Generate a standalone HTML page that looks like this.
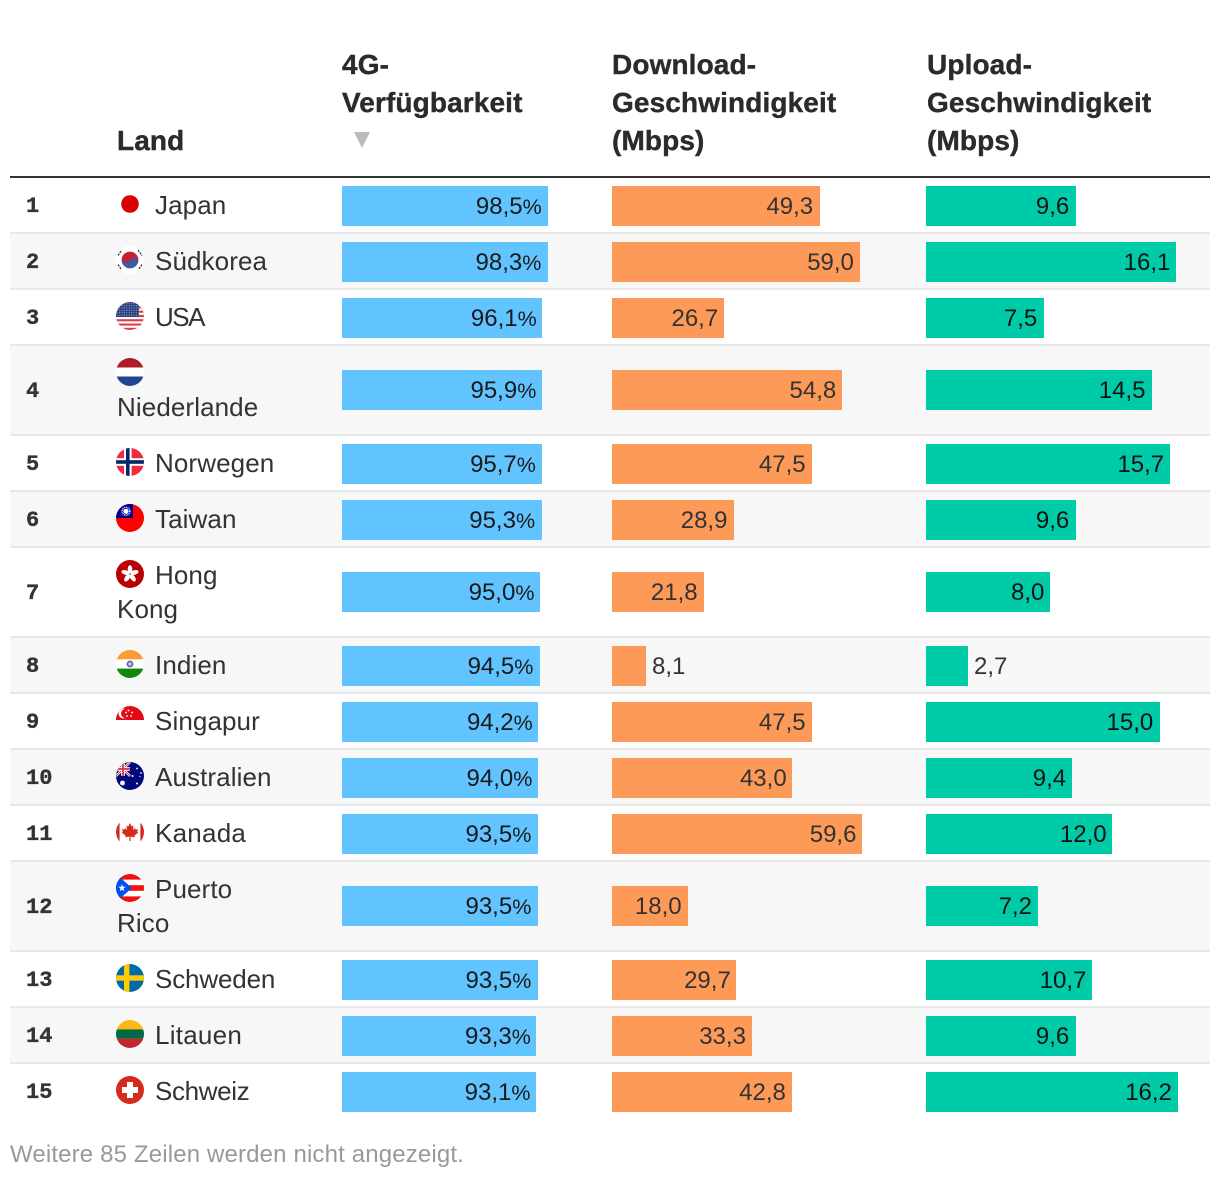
<!DOCTYPE html>
<html lang="de">
<head>
<meta charset="utf-8">
<title>4G-Verfügbarkeit</title>
<style>
html,body{margin:0;padding:0;background:#fff;width:1220px;height:1180px;overflow:hidden}
svg{display:block}
text{font-family:"Liberation Sans",sans-serif;fill:#333}
.head{font-size:28px;font-weight:700;fill:#2b2b2b;stroke:#2b2b2b;stroke-width:.4px;letter-spacing:.12px}
.rank{font-family:"Liberation Mono",monospace;font-size:22px;font-weight:700;fill:#333;stroke:#333;stroke-width:.35px}
.name{font-size:26px;fill:#333;letter-spacing:.1px}
.val{font-size:24px}
.pct{font-size:21.5px}
.foot{font-size:24px;fill:#999;letter-spacing:.15px}
</style>
</head>
<body>
<svg id="chart" xmlns="http://www.w3.org/2000/svg" width="1220" height="1180" viewBox="0 0 1220 1180">
  <defs><clipPath id="flag-clip"><circle cx="14" cy="14" r="14"/></clipPath>
  <pattern id="us-dots" width="2.4" height="2.4" patternUnits="userSpaceOnUse"><rect width="2.4" height="2.4" fill="#2a4080"/><circle cx="1.2" cy="1.2" r=".5" fill="#cfd6e6"/></pattern></defs>
  <g id="rows"></g>
  <g>
    <text class="head" x="117" y="150">Land</text>
    <text class="head"><tspan x="342" y="74">4G-</tspan><tspan x="342" y="112">Verfügbarkeit</tspan></text>
    <polygon points="354,132 370,132 362,148" fill="#bbb"/>
    <text class="head"><tspan x="612" y="74">Download-</tspan><tspan x="612" y="112">Geschwindigkeit</tspan><tspan x="612" y="150">(Mbps)</tspan></text>
    <text class="head"><tspan x="927" y="74">Upload-</tspan><tspan x="927" y="112">Geschwindigkeit</tspan><tspan x="927" y="150">(Mbps)</tspan></text>
    <rect x="10" y="176" width="1200" height="2" fill="#333"/>
  </g>
  <text class="foot" x="10" y="1162">Weitere 85 Zeilen werden nicht angezeigt.</text>
</svg>
<script>
const countries = ["Japan","Südkorea","USA","Niederlande","Norwegen","Taiwan","Hong Kong","Indien","Singapur","Australien","Kanada","Puerto Rico","Schweden","Litauen","Schweiz"];
const availability = [98.5,98.3,96.1,95.9,95.7,95.3,95.0,94.5,94.2,94.0,93.5,93.5,93.5,93.3,93.1];
const download = [49.3,59.0,26.7,54.8,47.5,28.9,21.8,8.1,47.5,43.0,59.6,18.0,29.7,33.3,42.8];
const upload = [9.6,16.1,7.54,14.5,15.7,9.6,8.0,2.7,15.0,9.4,12.0,7.2,10.7,9.6,16.2];

const flagArt = {
"Japan":'<circle cx="14" cy="14" r="8.8" fill="#d80000"/>',
"Südkorea":'<rect width="28" height="28" fill="#fff"/><g transform="rotate(25 14 14)"><path d="M5.6 14a8.4 8.4 0 0 1 16.8 0z" fill="#c8202f"/><path d="M5.6 14a8.4 8.4 0 0 0 16.8 0z" fill="#3f5a9e"/><circle cx="9.8" cy="14" r="4.2" fill="#c8202f"/><circle cx="18.2" cy="14" r="4.2" fill="#3f5a9e"/></g><g stroke="#222" stroke-width="1.1"><path d="M2 9.5L5.5 4.5M22 4L26 9.5M2 18.5L5.5 23.5M26 18.5L22.5 23.5" stroke-dasharray="2.2 .8"/></g>',
"USA":'<rect width="28" height="28" fill="#fff"/><g fill="#d8414e"><rect y="0" width="28" height="2.15"/><rect y="4.3" width="28" height="2.15"/><rect y="8.6" width="28" height="2.15"/><rect y="12.9" width="28" height="2.15"/><rect y="17.2" width="28" height="2.15"/><rect y="21.5" width="28" height="2.15"/><rect y="25.8" width="28" height="2.2"/></g><rect width="23" height="15" fill="url(#us-dots)"/>',
"Niederlande":'<rect width="28" height="9.5" fill="#ae1c28"/><rect y="9.5" width="28" height="9" fill="#fff"/><rect y="18.5" width="28" height="9.5" fill="#21468b"/>',
"Norwegen":'<rect width="28" height="28" fill="#ef2b3f"/><rect x="8" width="7.6" height="28" fill="#fff"/><rect y="10.2" width="28" height="7.6" fill="#fff"/><rect x="10" width="3.6" height="28" fill="#002868"/><rect y="12.2" width="28" height="3.6" fill="#002868"/>',
"Taiwan":'<rect width="28" height="28" fill="#fe0000"/><rect width="17" height="14" fill="#000095"/><circle cx="10" cy="7.3" r="3.9" fill="none" stroke="#fff" stroke-width="1.4" stroke-dasharray="1 .8"/><circle cx="10" cy="7.3" r="2.6" fill="#fff"/>',
"Hong Kong":'<rect width="28" height="28" fill="#ba0000"/><g fill="#fff"><ellipse cx="14" cy="9.4" rx="2.3" ry="4.3"/><ellipse cx="14" cy="9.4" rx="2.3" ry="4.3" transform="rotate(72 14 14)"/><ellipse cx="14" cy="9.4" rx="2.3" ry="4.3" transform="rotate(144 14 14)"/><ellipse cx="14" cy="9.4" rx="2.3" ry="4.3" transform="rotate(216 14 14)"/><ellipse cx="14" cy="9.4" rx="2.3" ry="4.3" transform="rotate(288 14 14)"/></g><circle cx="14" cy="14" r=".8" fill="#ba0000"/>',
"Indien":'<rect width="28" height="9.4" fill="#ff9933"/><rect y="9.4" width="28" height="9.2" fill="#fff"/><rect y="18.6" width="28" height="9.4" fill="#138808"/><circle cx="14" cy="14" r="3.4" fill="#5f5fb0"/><circle cx="14" cy="14" r="1.8" fill="#c8c8e6"/>',
"Singapur":'<rect width="28" height="14" fill="#e30a17"/><circle cx="7.5" cy="7.5" r="5" fill="#fff"/><circle cx="9.6" cy="7.5" r="4.6" fill="#e30a17"/><g fill="#fff"><circle cx="12.5" cy="4.5" r=".9"/><circle cx="16" cy="6.5" r=".9"/><circle cx="15" cy="10" r=".9"/><circle cx="11" cy="10" r=".9"/><circle cx="10" cy="6.5" r=".9"/></g>',
"Australien":'<rect width="28" height="28" fill="#00087c"/><path d="M0 0L14 14M14 0L0 14" stroke="#fff" stroke-width="2.4"/><path d="M0 0L14 14M14 0L0 14" stroke="#d8314a" stroke-width=".9"/><rect x="5.2" width="3.6" height="14" fill="#fff"/><rect y="5.2" width="14" height="3.6" fill="#fff"/><rect x="6.1" width="1.8" height="14" fill="#d8314a"/><rect y="6.1" width="14" height="1.8" fill="#d8314a"/><g fill="#fff"><circle cx="6.5" cy="21" r="2.4"/><circle cx="21" cy="6.5" r=".9"/><circle cx="25" cy="11" r=".9"/><circle cx="16.5" cy="14" r="1"/><circle cx="21" cy="21.5" r="1"/><circle cx="24" cy="14.5" r=".6"/></g>',
"Kanada":'<rect width="28" height="28" fill="#fff"/><rect width="3.6" height="28" fill="#d52b1e"/><rect x="24.4" width="3.6" height="28" fill="#d52b1e"/><polygon fill="#d52b1e" points="14,5 15.8,8.5 17.5,7.6 17,12 19,10 19.6,11.6 22,11.2 21.2,14 22.2,14.6 18.4,17.8 18.8,19.2 14.6,18.6 14.6,23 13.4,23 13.4,18.6 9.2,19.2 9.6,17.8 5.8,14.6 6.8,14 6,11.2 8.4,11.6 9,10 11,12 10.5,7.6 12.2,8.5"/>',
"Puerto Rico":'<rect width="28" height="28" fill="#fff"/><g fill="#f01010"><rect width="28" height="5.6"/><rect y="11.2" width="28" height="5.6"/><rect y="22.4" width="28" height="5.6"/></g><polygon points="0,0 16,14 0,28" fill="#0050f0"/><polygon fill="#fff" points="6,10 6.9,12.8 9.8,12.8 7.4,14.5 8.3,17.3 6,15.6 3.7,17.3 4.6,14.5 2.2,12.8 5.1,12.8"/>',
"Schweden":'<rect width="28" height="28" fill="#006aa7"/><rect x="8" width="5.4" height="28" fill="#fecc00"/><rect y="11.3" width="28" height="5.4" fill="#fecc00"/>',
"Litauen":'<rect width="28" height="9.4" fill="#fdb913"/><rect y="9.4" width="28" height="9.2" fill="#006a44"/><rect y="18.6" width="28" height="9.4" fill="#c1272d"/>',
"Schweiz":'<rect width="28" height="28" fill="#d52b1e"/><rect x="11" y="6" width="6" height="16" fill="#fff"/><rect x="6" y="11" width="16" height="6" fill="#fff"/>'
};

const nameSpacing = {"USA":"-1.5px","Schweiz":"-.35px","Schweden":"-.15px","Litauen":".25px","Kanada":".25px"};

const SVG_NS = "http://www.w3.org/2000/svg";
const rowsRoot = document.getElementById("rows");

function xAvailability(v){ return v * 2.089; }
function xDownload(v){ return v * 4.202; }
function xUpload(v){ return v * 15.55; }
function snapEven(w){ return 2 * Math.round(w / 2); }
function formatValue(v){ return v.toFixed(1).replace(".", ","); }
function slug(s){ return s.toLowerCase().replace(/ü/g,"ue").replace(/\s+/g,"-"); }

const columns = [
  {key:"availability", values:availability, scale:xAvailability, left:342, color:"#61c4ff", ink:"#1a1a1a", suffix:"%"},
  {key:"download", values:download, scale:xDownload, left:612, color:"#fd9a58", ink:"#333", suffix:""},
  {key:"upload", values:upload, scale:xUpload, left:926, color:"#00cba9", ink:"#111", suffix:""}
];

function rowHeight(name){
  return (name === "Niederlande" || name.indexOf(" ") > -1) ? 90 : 56;
}

let rowTop = 178;
countries.forEach(function(name, i){
  const h = rowHeight(name);
  const id = slug(name);

  const bg = document.createElementNS(SVG_NS, "rect");
  
  
  bg.setAttribute("x", 10);
  bg.setAttribute("y", rowTop);
  bg.setAttribute("width", 1200);
  bg.setAttribute("height", h);
  bg.setAttribute("fill", i % 2 ? "#f7f7f7" : "#fff");
  rowsRoot.appendChild(bg);

  if (i < countries.length - 1) {
    const rule = document.createElementNS(SVG_NS, "rect");
    
    
    rule.setAttribute("x", 10);
    rule.setAttribute("y", rowTop + h - 2);
    rule.setAttribute("width", 1200);
    rule.setAttribute("height", 2);
    rule.setAttribute("fill", "#e9e9e9");
    rowsRoot.appendChild(rule);
  }

  const rank = document.createElementNS(SVG_NS, "text");
  
  
  rank.setAttribute("class", "rank");
  rank.setAttribute("x", 26);
  rank.setAttribute("y", rowTop + h / 2 + 6);
  rank.textContent = String(i + 1);
  rowsRoot.appendChild(rank);

  const flag = document.createElementNS(SVG_NS, "g");
  
  
  flag.setAttribute("transform", "translate(116 " + (rowTop + 12) + ")");
  flag.setAttribute("clip-path", "url(#flag-clip)");
  flag.innerHTML = flagArt[name];
  rowsRoot.appendChild(flag);

  const label = document.createElementNS(SVG_NS, "text");
  
  
  label.setAttribute("class", "name");
  if (nameSpacing[name]) label.style.letterSpacing = nameSpacing[name];
  const parts = name.split(" ");
  if (h === 56) {
    label.setAttribute("x", 155);
    label.setAttribute("y", rowTop + 36);
    label.textContent = name;
  } else if (parts.length === 1) {
    label.setAttribute("x", 117);
    label.setAttribute("y", rowTop + 70);
    label.textContent = name;
  } else {
    const first = document.createElementNS(SVG_NS, "tspan");
    first.setAttribute("x", 155);
    first.setAttribute("y", rowTop + 36);
    first.textContent = parts[0];
    label.appendChild(first);
    const second = document.createElementNS(SVG_NS, "tspan");
    second.setAttribute("x", 117);
    second.setAttribute("y", rowTop + 70);
    second.textContent = parts[1];
    label.appendChild(second);
  }
  rowsRoot.appendChild(label);

  columns.forEach(function(col){
    const v = col.values[i];
    const raw = col.scale(v);
    const w = snapEven(raw);
    const barTop = rowTop + (h === 56 ? 8 : 24);
    const bar = document.createElementNS(SVG_NS, "rect");
    
    
    bar.setAttribute("x", col.left);
    bar.setAttribute("y", barTop);
    bar.setAttribute("width", w);
    bar.setAttribute("height", 40);
    bar.setAttribute("fill", col.color);
    rowsRoot.appendChild(bar);

    const t = document.createElementNS(SVG_NS, "text");
    
    
    t.setAttribute("class", "val");
    t.setAttribute("y", barTop + 28);
    const inside = w >= 60;
    t.setAttribute("x", inside ? col.left + raw - 6 : col.left + w + 6);
    t.setAttribute("text-anchor", inside ? "end" : "start");
    t.style.fill = inside ? col.ink : "#333";
    t.textContent = formatValue(v);
    if (col.suffix) {
      const unit = document.createElementNS(SVG_NS, "tspan");
      unit.setAttribute("class", "pct");
      unit.textContent = col.suffix;
      t.appendChild(unit);
    }
    rowsRoot.appendChild(t);
  });

  rowTop += h;
});
</script>
</body>
</html>
